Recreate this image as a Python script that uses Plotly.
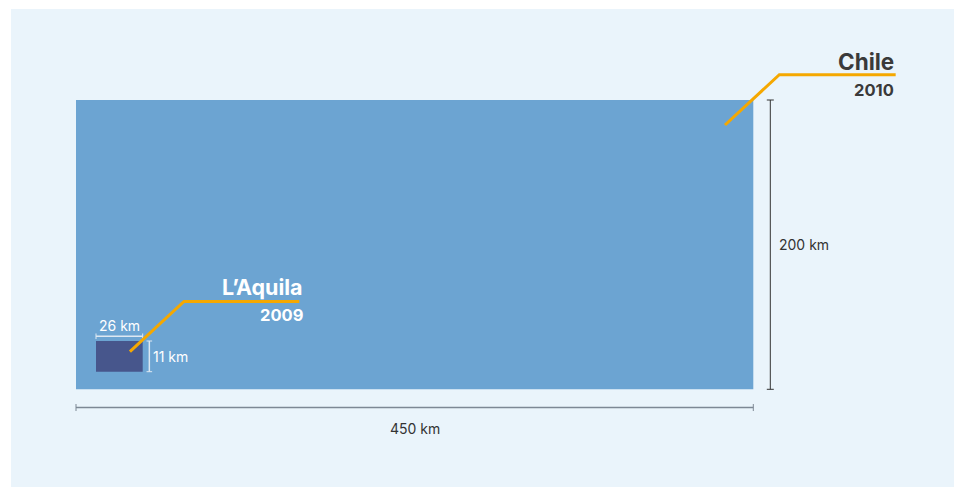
import plotly.graph_objects as go

# ---- data ----
quake_names = ["L’Aquila", "Chile"]
quake_years = ["2009", "2010"]
rupture_width_km = [26, 450]
rupture_height_km = [11, 200]
dim_unit = "km"

W, H = 954, 487
# main axes (Chile, km) : px per km
sx, sy = 1.5051, 1.4465
ox, oy = 76, 389.3
# inset axes (L'Aquila, emphasised scale)
sx2, sy2 = 1.796, 2.79
ox2, oy2 = 96, 371.7

BG = "#EAF4FB"
BIG = "#6CA4D2"
SMALL = "#47568C"
ORANGE = "#F5A800"
DARK = "#333333"
FONT = "Inter"

fig = go.Figure()

# panel
fig.add_shape(type="rect", xref="paper", yref="paper", x0=11 / W, x1=1, y0=0, y1=1 - 9 / H,
              fillcolor=BG, line_width=0, layer="below")

# Chile rupture rectangle (main axes)
cw, ch = rupture_width_km[1], rupture_height_km[1]
fig.add_trace(go.Scatter(x=[0, cw, cw, 0, 0], y=[0, 0, ch, ch, 0], fill="toself",
                         fillcolor=BIG, line=dict(width=0), mode="lines", hoverinfo="skip",
                         xaxis="x", yaxis="y"))
# L'Aquila rectangle (inset axes)
aw, ah = rupture_width_km[0], rupture_height_km[0]
fig.add_trace(go.Scatter(x=[0, aw, aw, 0, 0], y=[0, 0, ah, ah, 0], fill="toself",
                         fillcolor=SMALL, line=dict(width=0), mode="lines", hoverinfo="skip",
                         xaxis="x2", yaxis="y2"))

# dimension brackets - Chile
fig.add_trace(go.Scatter(x=[0, cw], y=[-12.6, -12.6], mode="lines+markers",
                         line=dict(color="#7D8894", width=1.5),
                         marker=dict(symbol="line-ns-open", size=5, line=dict(color="#7D8894", width=1)),
                         hoverinfo="skip", xaxis="x", yaxis="y"))
fig.add_trace(go.Scatter(x=[cw + 11.3, cw + 11.3], y=[0, ch], mode="lines+markers",
                         line=dict(color=DARK, width=1),
                         marker=dict(symbol="line-ew-open", size=5, line=dict(color=DARK, width=1)),
                         hoverinfo="skip", xaxis="x", yaxis="y"))
# dimension brackets - L'Aquila
LIGHT = "#DDE8F2"
fig.add_trace(go.Scatter(x=[0, aw], y=[ah + 1.7, ah + 1.7], mode="lines+markers",
                         line=dict(color=LIGHT, width=1.5),
                         marker=dict(symbol="line-ns-open", size=4, line=dict(color=LIGHT, width=1)),
                         hoverinfo="skip", xaxis="x2", yaxis="y2"))
fig.add_trace(go.Scatter(x=[aw + 3.7, aw + 3.7], y=[0, ah], mode="lines+markers",
                         line=dict(color=LIGHT, width=1.5),
                         marker=dict(symbol="line-ew-open", size=4, line=dict(color=LIGHT, width=1)),
                         hoverinfo="skip", xaxis="x2", yaxis="y2"))

# leader lines: L'Aquila on the inset axes (drawn above its rectangle), Chile on main axes
fig.add_trace(go.Scatter(x=[18.9, 49.0, 113.2], y=[7.2, 25.2, 25.2], mode="lines",
                         line=dict(color=ORANGE, width=3), hoverinfo="skip", xaxis="x2", yaxis="y2"))
fig.add_trace(go.Scatter(x=[431.2, 467.3, 544.6], y=[182.7, 217.5, 217.5], mode="lines",
                         line=dict(color=ORANGE, width=3), hoverinfo="skip", xaxis="x", yaxis="y"))

ann = []
def txt(x, y, s, size, color, xanchor="center", bold=False, xref="x", yref="y"):
    ann.append(dict(x=x, y=y, xref=xref, yref=yref, text=f"<b>{s}</b>" if bold else s,
                    showarrow=False, xanchor=xanchor, yanchor="middle",
                    font=dict(family=FONT, size=size, color=color)))

txt(152.0, 70.9, quake_names[0], 21.5, "white", "right", True)
txt(152.0, 51.2, quake_years[0], 16.5, "white", "right", True)
txt(544.6, 226.3, quake_names[1], 22.5, "#3A3A3A", "right", True)
txt(544.6, 206.9, quake_years[1], 16.5, "#3A3A3A", "right", True)
txt(cw / 2, -26.8, f"{cw} {dim_unit}", 14, DARK)
txt(cw + 15.8, ch / 2, f"{ch} {dim_unit}", 14, DARK, "left")
txt(aw / 2, 16.4, f"{aw} {dim_unit}", 14, "white", xref="x2", yref="y2")
txt(aw + 4.4, ah / 2, f"{ah} {dim_unit}", 14, "white", "left", xref="x2", yref="y2")

ax = dict(visible=False, showgrid=False, zeroline=False, fixedrange=True)
fig.update_layout(
    width=W, height=H, margin=dict(l=0, r=0, t=0, b=0),
    paper_bgcolor="white", plot_bgcolor="rgba(0,0,0,0)", showlegend=False,
    hovermode=False,
    xaxis=dict(range=[-ox / sx, (W - ox) / sx], domain=[0, 1], **ax),
    yaxis=dict(range=[-(H - oy) / sy, oy / sy], domain=[0, 1], **ax),
    xaxis2=dict(range=[-ox2 / sx2, (W - ox2) / sx2], overlaying="x", **ax),
    yaxis2=dict(range=[-(H - oy2) / sy2, oy2 / sy2], overlaying="y", **ax),
    annotations=ann,
)
fig.write_html("out.html", config={"displayModeBar": False},
               post_script="document.body.style.margin='0';document.body.style.overflow='hidden';")
